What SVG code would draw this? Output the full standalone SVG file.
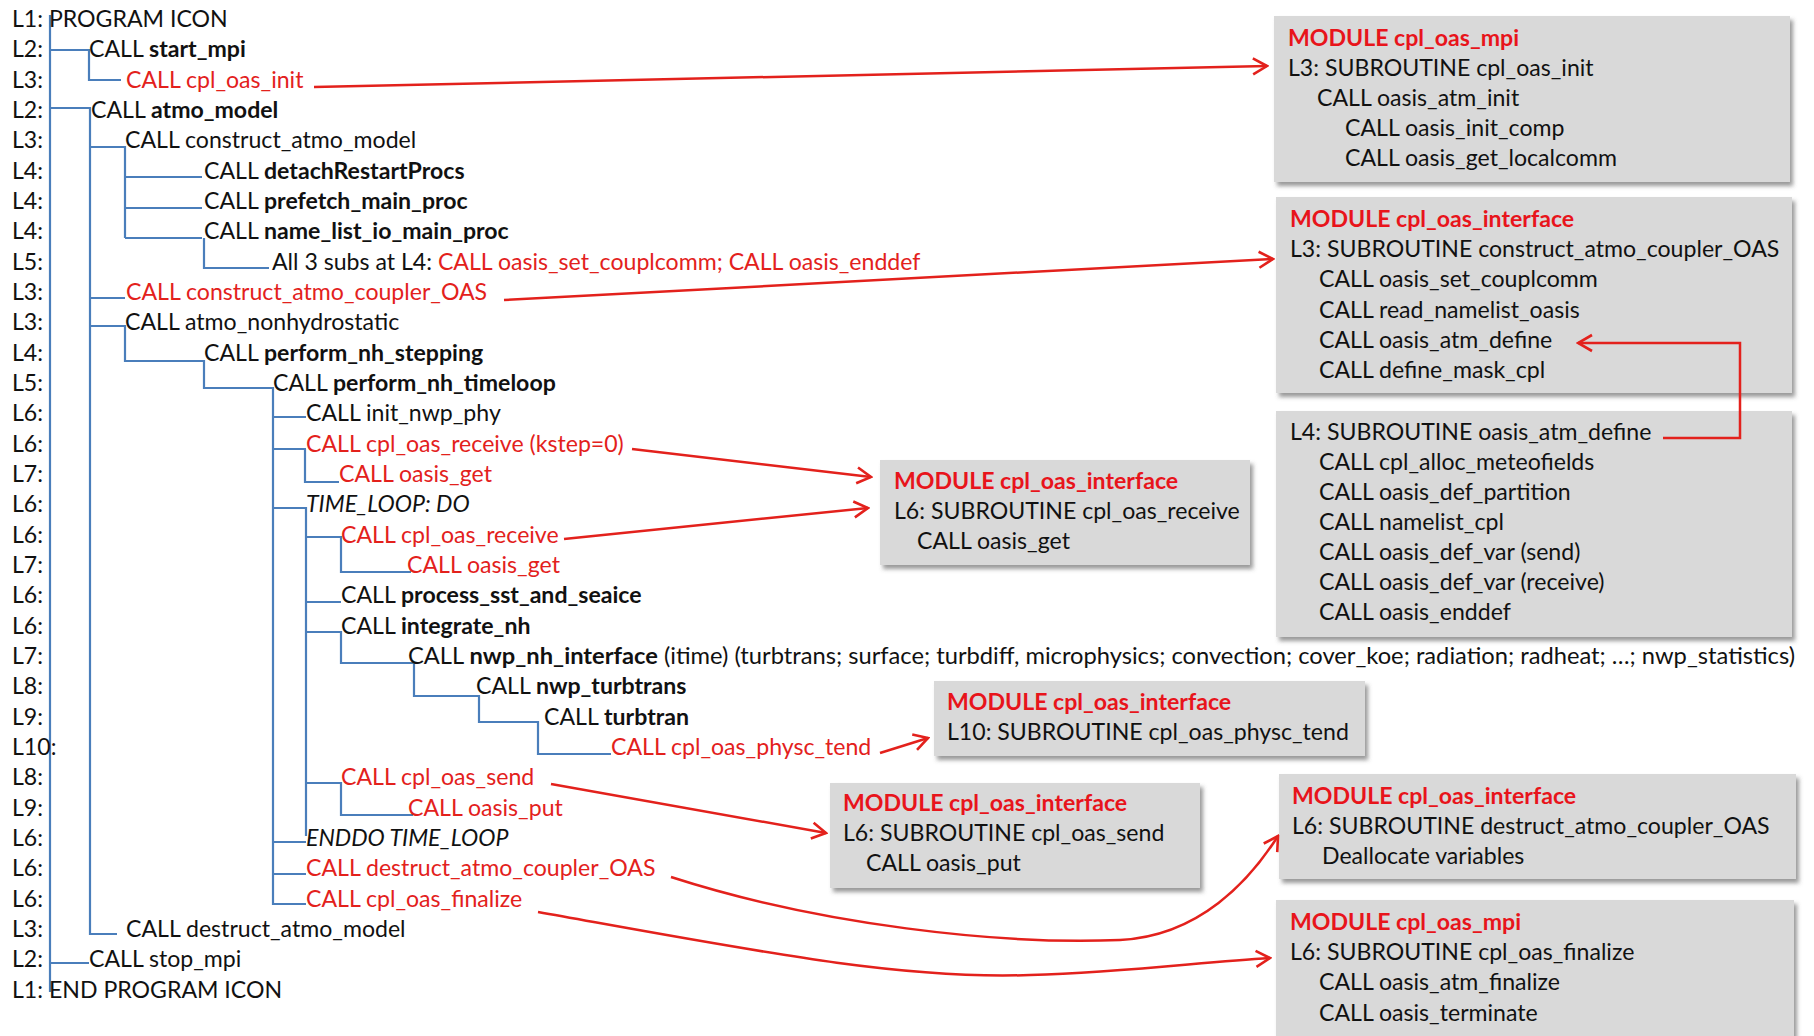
<svg xmlns="http://www.w3.org/2000/svg" width="1814" height="1036" viewBox="0 0 1814 1036">
<style>
text{font-family:Lato,"Open Sans","Liberation Sans",sans-serif;font-size:23.1px;fill:#111}
.r{fill:#e3211c}
.b{font-weight:bold}
.i{font-style:italic}
.mh{font-weight:bold;fill:#e8141b}
.tree{stroke:#4a7ebb;stroke-width:2.2;fill:none}
.arr{stroke:#e3211c;stroke-width:2.5;fill:none;marker-end:url(#ah)}
.box{fill:#d9d9d9;filter:url(#sh)}
</style>
<defs>
<filter id="sh" x="-5%" y="-10%" width="115%" height="130%">
<feDropShadow dx="3" dy="4" stdDeviation="2" flood-color="#555" flood-opacity="0.6"/>
</filter>
<marker id="ah" markerUnits="userSpaceOnUse" markerWidth="20" markerHeight="20" viewBox="0 0 20 20" refX="18" refY="10" orient="auto">
<path d="M4,2 L18,10 L4,18" fill="none" stroke="#e3211c" stroke-width="2.6"/>
</marker>
</defs>
<rect width="1814" height="1036" fill="#fff"/>

<g id="tree-connectors" class="tree">
<path d="M50 15 V992"/>
<path d="M50 50 H89 V80 H121"/>
<path d="M50 108 H90 V934 H117"/>
<path d="M90 147 H125 V238 M125 177 H202 M125 208 H202 M125 238 H202"/>
<path d="M204 238 V268 H269"/>
<path d="M90 298 H125"/>
<path d="M90 326 H125 V361 H204 V388 H273 V904 H306"/>
<path d="M273 417 H306"/>
<path d="M273 449 H306 M305 449 V482 H339"/>
<path d="M273 508 H306 V836"/>
<path d="M306 537 H341 V572 H411"/>
<path d="M306 602 H341"/>
<path d="M306 632 H341 V663 H414 V696 H479 V722 H538 V754 H611"/>
<path d="M306 783 H341 V815 H413"/>
<path d="M273 842 H306"/>
<path d="M273 874 H306"/>
<path d="M50 963 H89"/>
</g>

<g id="row-0"><text x="12" y="27">L1: PROGRAM ICON</text></g>
<g id="row-1"><text x="12" y="57">L2:</text><text x="89" y="57">CALL <tspan class="b">start_mpi</tspan></text></g>
<g id="row-2"><text x="12" y="88">L3:</text><text x="126" y="88" class="r">CALL cpl_oas_init</text></g>
<g id="row-3"><text x="12" y="118">L2:</text><text x="91" y="118">CALL <tspan class="b">atmo_model</tspan></text></g>
<g id="row-4"><text x="12" y="148">L3:</text><text x="125" y="148">CALL construct_atmo_model</text></g>
<g id="row-5"><text x="12" y="179">L4:</text><text x="204" y="179">CALL <tspan class="b">detachRestartProcs</tspan></text></g>
<g id="row-6"><text x="12" y="209">L4:</text><text x="204" y="209">CALL <tspan class="b">prefetch_main_proc</tspan></text></g>
<g id="row-7"><text x="12" y="239">L4:</text><text x="204" y="239">CALL <tspan class="b">name_list_io_main_proc</tspan></text></g>
<g id="row-8"><text x="12" y="270">L5:</text><text x="272" y="270">All 3 subs at L4: <tspan class="r">CALL oasis_set_couplcomm; CALL oasis_enddef</tspan></text></g>
<g id="row-9"><text x="12" y="300">L3:</text><text x="126" y="300" class="r">CALL construct_atmo_coupler_OAS</text></g>
<g id="row-10"><text x="12" y="330">L3:</text><text x="125" y="330">CALL atmo_nonhydrostatic</text></g>
<g id="row-11"><text x="12" y="361">L4:</text><text x="204" y="361">CALL <tspan class="b">perform_nh_stepping</tspan></text></g>
<g id="row-12"><text x="12" y="391">L5:</text><text x="273" y="391">CALL <tspan class="b">perform_nh_timeloop</tspan></text></g>
<g id="row-13"><text x="12" y="421">L6:</text><text x="306" y="421">CALL init_nwp_phy</text></g>
<g id="row-14"><text x="12" y="452">L6:</text><text x="306" y="452" class="r">CALL cpl_oas_receive (kstep=0)</text></g>
<g id="row-15"><text x="12" y="482">L7:</text><text x="339" y="482" class="r">CALL oasis_get</text></g>
<g id="row-16"><text x="12" y="512">L6:</text><text x="306" y="512" class="i">TIME_LOOP: DO</text></g>
<g id="row-17"><text x="12" y="543">L6:</text><text x="341" y="543" class="r">CALL cpl_oas_receive</text></g>
<g id="row-18"><text x="12" y="573">L7:</text><text x="407" y="573" class="r">CALL oasis_get</text></g>
<g id="row-19"><text x="12" y="603">L6:</text><text x="341" y="603">CALL <tspan class="b">process_sst_and_seaice</tspan></text></g>
<g id="row-20"><text x="12" y="634">L6:</text><text x="341" y="634">CALL <tspan class="b">integrate_nh</tspan></text></g>
<g id="row-21"><text x="12" y="664">L7:</text><text x="408" y="664" textLength="1387" lengthAdjust="spacingAndGlyphs">CALL <tspan class="b">nwp_nh_interface</tspan> (itime) (turbtrans; surface; turbdiff, microphysics; convection; cover_koe; radiation; radheat; …; nwp_statistics)</text></g>
<g id="row-22"><text x="12" y="694">L8:</text><text x="476" y="694">CALL <tspan class="b">nwp_turbtrans</tspan></text></g>
<g id="row-23"><text x="12" y="725">L9:</text><text x="544" y="725">CALL <tspan class="b">turbtran</tspan></text></g>
<g id="row-24"><text x="12" y="755">L10:</text><text x="611" y="755" class="r">CALL cpl_oas_physc_tend</text></g>
<g id="row-25"><text x="12" y="785">L8:</text><text x="341" y="785" class="r">CALL cpl_oas_send</text></g>
<g id="row-26"><text x="12" y="816">L9:</text><text x="408" y="816" class="r">CALL oasis_put</text></g>
<g id="row-27"><text x="12" y="846">L6:</text><text x="306" y="846" class="i">ENDDO TIME_LOOP</text></g>
<g id="row-28"><text x="12" y="876">L6:</text><text x="306" y="876" class="r">CALL destruct_atmo_coupler_OAS</text></g>
<g id="row-29"><text x="12" y="907">L6:</text><text x="306" y="907" class="r">CALL cpl_oas_finalize</text></g>
<g id="row-30"><text x="12" y="937">L3:</text><text x="126" y="937">CALL destruct_atmo_model</text></g>
<g id="row-31"><text x="12" y="967">L2:</text><text x="89" y="967">CALL stop_mpi</text></g>
<g id="row-32"><text x="12" y="998">L1: END PROGRAM ICON</text></g>

<g id="box-mpi-init">
<rect class="box" x="1274" y="16" width="516" height="166"/>
<text x="1288" y="46" class="mh">MODULE cpl_oas_mpi</text>
<text x="1288" y="76">L3: SUBROUTINE cpl_oas_init</text>
<text x="1317" y="106">CALL oasis_atm_init</text>
<text x="1345" y="136">CALL oasis_init_comp</text>
<text x="1345" y="166">CALL oasis_get_localcomm</text>
</g>
<g id="box-interface-construct">
<rect class="box" x="1276" y="197" width="516" height="196"/>
<text x="1290" y="227" class="mh">MODULE cpl_oas_interface</text>
<text x="1290" y="257">L3: SUBROUTINE construct_atmo_coupler_OAS</text>
<text x="1319" y="287">CALL oasis_set_couplcomm</text>
<text x="1319" y="318">CALL read_namelist_oasis</text>
<text x="1319" y="348">CALL oasis_atm_define</text>
<text x="1319" y="378">CALL define_mask_cpl</text>
</g>
<g id="box-atm-define">
<rect class="box" x="1276" y="411" width="516" height="226"/>
<text x="1290" y="440">L4: SUBROUTINE oasis_atm_define</text>
<text x="1319" y="470">CALL cpl_alloc_meteofields</text>
<text x="1319" y="500">CALL oasis_def_partition</text>
<text x="1319" y="530">CALL namelist_cpl</text>
<text x="1319" y="560">CALL oasis_def_var (send)</text>
<text x="1319" y="590">CALL oasis_def_var (receive)</text>
<text x="1319" y="620">CALL oasis_enddef</text>
</g>
<g id="box-receive">
<rect class="box" x="880" y="460" width="370" height="105"/>
<text x="894" y="489" class="mh">MODULE cpl_oas_interface</text>
<text x="894" y="519">L6: SUBROUTINE cpl_oas_receive</text>
<text x="917" y="549">CALL oasis_get</text>
</g>
<g id="box-physc-tend">
<rect class="box" x="934" y="681" width="431" height="75"/>
<text x="947" y="710" class="mh">MODULE cpl_oas_interface</text>
<text x="947" y="740">L10: SUBROUTINE cpl_oas_physc_tend</text>
</g>
<g id="box-send">
<rect class="box" x="830" y="783" width="370" height="105"/>
<text x="843" y="811" class="mh">MODULE cpl_oas_interface</text>
<text x="843" y="841">L6: SUBROUTINE cpl_oas_send</text>
<text x="866" y="871">CALL oasis_put</text>
</g>
<g id="box-destruct">
<rect class="box" x="1279" y="774" width="517" height="105"/>
<text x="1292" y="804" class="mh">MODULE cpl_oas_interface</text>
<text x="1292" y="834">L6: SUBROUTINE destruct_atmo_coupler_OAS</text>
<text x="1322" y="864">Deallocate variables</text>
</g>
<g id="box-finalize">
<rect class="box" x="1276" y="900" width="518" height="150"/>
<text x="1290" y="930" class="mh">MODULE cpl_oas_mpi</text>
<text x="1290" y="960">L6: SUBROUTINE cpl_oas_finalize</text>
<text x="1319" y="990">CALL oasis_atm_finalize</text>
<text x="1319" y="1021">CALL oasis_terminate</text>
</g>

<g id="connectors">
<path class="arr" d="M314 87 L1267 66"/>
<path class="arr" d="M504 300 L1273 259"/>
<path class="arr" d="M1663 438 H1740 V343 H1578"/>
<path class="arr" d="M632 449 L871 477"/>
<path class="arr" d="M564 539 L868 508"/>
<path class="arr" d="M880 753 L928 738"/>
<path class="arr" d="M551 784 L826 833"/>
<path class="arr" d="M671 877 C820 925 1000 945 1120 940 C1200 936 1250 880 1278 836"/>
<path class="arr" d="M538 912 C750 950 900 980 1030 975 C1130 972 1200 962 1270 958"/>
</g>
</svg>
